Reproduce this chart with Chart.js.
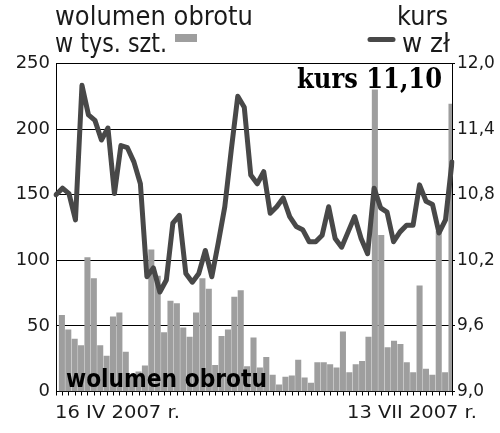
<!DOCTYPE html>
<html>
<head>
<meta charset="utf-8">
<script src="https://cdn.jsdelivr.net/npm/chart.js@4/dist/chart.umd.min.js"></script>
<style>
  html, body { margin: 0; padding: 0; background: #fff; }
  #wrap { width: 500px; height: 433px; }
</style>
</head>
<body>
<div id="wrap"><canvas id="chart" width="500" height="433"></canvas></div>
<script>
// daily turnover, thousand shares (16 IV - 13 VII 2007)
const volume = [
  58, 47, 40, 35, 102, 86, 35, 27, 57, 60,
  30, 12, 15, 19.5, 108, 88, 45, 69, 67, 48.5,
  41.5, 60, 86, 78, 20, 42, 47, 72, 77, 19,
  41, 18, 26, 12.5, 5, 11, 12, 24, 10.5, 6.5,
  22, 22, 20.5, 18, 45.5, 14.5, 20.5, 23, 41.5, 230,
  119, 33.5, 38.5, 36, 22, 14.5, 80.5, 17, 12.5, 122,
  14.5, 219
];
// closing price, zl
const kurs = [
  10.80, 10.86, 10.81, 10.57, 11.80, 11.53, 11.48, 11.30, 11.41, 10.81,
  11.25, 11.23, 11.10, 10.90, 10.05, 10.13, 9.91, 10.02, 10.54, 10.61,
  10.08, 10.00, 10.08, 10.29, 10.05, 10.36, 10.69, 11.21, 11.70, 11.60,
  10.98, 10.90, 11.01, 10.63, 10.69, 10.77, 10.60, 10.51, 10.48, 10.37,
  10.37, 10.43, 10.69, 10.40, 10.32, 10.46, 10.60, 10.40, 10.26, 10.86,
  10.68, 10.64, 10.37, 10.46, 10.52, 10.52, 10.89, 10.74, 10.71, 10.45,
  10.57, 11.10
];
const leftTicks = [0, 50, 100, 150, 200, 250];
const rightTicks = [9.0, 9.6, 10.2, 10.8, 11.4, 12.0];
const dateLabels = ['16 IV 2007 r.', '13 VII 2007 r.'];
const days = volume.map((v, i) => i + 1);

const INK = '#1a1a1a';

// draw text squeezed/stretched to a given width
function fitText(ctx, text, x, y, font, width, align) {
  ctx.font = font;
  const w = ctx.measureText(text).width;
  ctx.save();
  ctx.translate(x, y);
  ctx.scale(width / w, 1);
  ctx.textAlign = 'left';
  ctx.textBaseline = 'alphabetic';
  ctx.fillText(text, align === 'right' ? -w : 0, 0);
  ctx.restore();
}

const labelsPlugin = {
  id: 'labels',
  afterDraw(chart) {
    const ctx = chart.ctx;
    ctx.save();
    ctx.fillStyle = INK;
    // legend titles
    fitText(ctx, 'wolumen obrotu', 55, 25, '26px "DejaVu Sans"', 198);
    fitText(ctx, 'w tys. szt.', 55, 52, '26px "DejaVu Sans"', 112);
    fitText(ctx, 'kurs', 448, 25, '26px "DejaVu Sans"', 51, 'right');
    fitText(ctx, 'w zł', 450, 52, '26px "DejaVu Sans"', 48, 'right');
    // legend swatches
    ctx.fillStyle = '#9e9e9e';
    ctx.fillRect(175, 34, 22, 8);
    ctx.strokeStyle = '#484848';
    ctx.lineWidth = 5;
    ctx.lineCap = 'round';
    ctx.beginPath();
    ctx.moveTo(370, 39.5);
    ctx.lineTo(393, 39.5);
    ctx.stroke();
    // dates under the axis
    ctx.fillStyle = INK;
    fitText(ctx, dateLabels[0], 55, 418, '18px "DejaVu Sans"', 125);
    fitText(ctx, dateLabels[1], 477, 418, '18px "DejaVu Sans"', 130, 'right');
    // inside the plot
    ctx.fillStyle = '#000';
    fitText(ctx, 'kurs 11,10', 442, 88, 'bold 27px "DejaVu Serif"', 145, 'right');
    fitText(ctx, 'wolumen obrotu', 66, 387, 'bold 25px "DejaVu Sans"', 201);
    ctx.restore();
  }
};

new Chart(document.getElementById('chart'), {
  type: 'bar',
  data: {
    labels: days,
    datasets: [
      {
        type: 'line',
        data: kurs,
        xAxisID: 'x2',
        yAxisID: 'y1',
        borderColor: '#484848',
        borderWidth: 5,
        borderJoinStyle: 'round',
        borderCapStyle: 'round',
        tension: 0,
        pointRadius: 0,
        order: 0
      },
      {
        type: 'bar',
        data: volume,
        xAxisID: 'x',
        yAxisID: 'y',
        backgroundColor: '#9e9e9e',
        barThickness: 5.4,
        order: 1
      }
    ]
  },
  options: {
    responsive: false,
    animation: false,
    layout: { padding: { top: 63.5, left: 0, right: 0, bottom: 0 } },
    plugins: { legend: { display: false }, tooltip: { enabled: false } },
    scales: {
      x: {
        type: 'category',
        offset: true,
        border: { color: '#000', width: 1 },
        grid: { drawOnChartArea: false, tickLength: 4, color: '#000' },
        ticks: { display: false, autoSkip: false },
        afterFit(s) { s.height = 41.5; }
      },
      x2: {
        type: 'category',
        offset: false,
        display: false
      },
      y: {
        position: 'left',
        min: 0,
        max: 250,
        border: { color: '#000', width: 1 },
        grid: { color: '#000', lineWidth: 1, drawTicks: false },
        ticks: { color: INK, font: { family: 'DejaVu Sans', size: 18 }, padding: 6 },
        afterBuildTicks(s) { s.ticks = leftTicks.map(v => ({ value: v })); },
        afterFit(s) { s.width = 56; }
      },
      y1: {
        position: 'right',
        min: 9,
        max: 12,
        border: { color: '#000', width: 1 },
        grid: { drawOnChartArea: false, tickLength: 3, color: '#000' },
        ticks: {
          color: INK,
          font: { family: 'DejaVu Sans', size: 17 },
          padding: 2,
          callback: v => v.toFixed(1).replace('.', ',')
        },
        afterBuildTicks(s) { s.ticks = rightTicks.map(v => ({ value: v })); },
        afterFit(s) { s.width = 48; }
      }
    }
  },
  plugins: [labelsPlugin]
});
</script>
</body>
</html>
